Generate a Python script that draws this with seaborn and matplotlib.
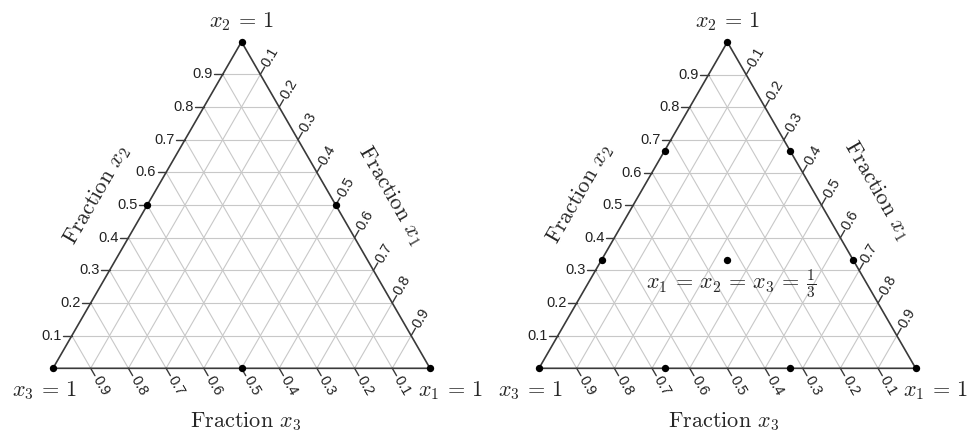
import numpy as np
import pandas as pd
import matplotlib
matplotlib.use("Agg")
import matplotlib.pyplot as plt
import seaborn as sns

# ---- data -------------------------------------------------------------
tick_values = [0.1, 0.2, 0.3, 0.4, 0.5, 0.6, 0.7, 0.8, 0.9]
tick_labels = ["0.1", "0.2", "0.3", "0.4", "0.5", "0.6", "0.7", "0.8", "0.9"]

# points (x1, x2, x3) for the left panel: vertices and edge midpoints
left_x1 = [1.0, 0.0, 0.0, 0.5, 0.0, 0.5]
left_x2 = [0.0, 1.0, 0.0, 0.5, 0.5, 0.0]
left_x3 = [0.0, 0.0, 1.0, 0.0, 0.5, 0.5]

# points for the right panel: vertices, edge thirds and the centroid
right_x1 = [1.0, 0.0, 0.0, 1/3, 2/3, 0.0, 0.0, 1/3, 2/3, 1/3]
right_x2 = [0.0, 1.0, 0.0, 2/3, 1/3, 2/3, 1/3, 0.0, 0.0, 1/3]
right_x3 = [0.0, 0.0, 1.0, 0.0, 0.0, 1/3, 2/3, 2/3, 1/3, 1/3]

# ---- styling ----------------------------------------------------------
sns.set_theme(style="white")
plt.rcParams["mathtext.fontset"] = "cm"
plt.rcParams["font.family"] = ["Liberation Sans", "DejaVu Sans"]

SQ3 = np.sqrt(3) / 2
GRID_C = "#c8c8c8"
EDGE_C = "#3a3a3a"
TICK_FS = 10.5
TITLE_FS = 16
SERIF = "cmr10"


def to_xy(x1, x2, x3):
    x1, x2, x3 = map(np.asarray, (x1, x2, x3))
    return x1 + 0.5 * x2, SQ3 * x2


def draw_ternary(ax, S, px_width, bl_px, bl_py, p1, p2, p3):
    H = 432
    ax.set_xlim(-bl_px / S, (px_width - bl_px) / S)
    ax.set_ylim(-(H - bl_py) / S, bl_py / S)
    ax.set_axis_off()

    # grid lines in the three directions
    rows = []
    for i, v in enumerate(tick_values):
        for seg, (a, b) in enumerate([
            ((0, v, 1 - v), (1 - v, v, 0)),      # constant x2
            ((v, 0, 1 - v), (v, 1 - v, 0)),      # constant x1
            ((1 - v, 0, v), (0, 1 - v, v)),      # constant x3
        ]):
            for end in (a, b):
                x, y = to_xy(*end)
                rows.append({"x": float(x), "y": float(y), "line": f"{seg}-{i}"})
    grid = pd.DataFrame(rows)
    for _, g in grid.groupby("line"):
        ax.plot(g["x"], g["y"], color=GRID_C, lw=0.8, zorder=1)

    # triangle outline
    ex, ey = to_xy([0, 1, 0, 0], [0, 0, 1, 0], [1, 0, 0, 1])
    ax.plot(ex, ey, color=EDGE_C, lw=1.2, zorder=2, solid_joinstyle="miter")

    # ticks and tick labels
    tl = 8.5 / S
    gap = 1.5 / S
    for v, lab in zip(tick_values, tick_labels):
        # x2 on the left edge
        x, y = to_xy(0, v, 1 - v)
        ax.plot([x, x - tl], [y, y], color=EDGE_C, lw=1.0, zorder=2)
        ax.text(x - tl - gap, y, lab, ha="right", va="center",
                fontsize=TICK_FS, color="#222222")
        # x1 on the right edge
        x, y = to_xy(v, 1 - v, 0)
        dx, dy = 0.5, SQ3
        ax.plot([x, x + tl * dx], [y, y + tl * dy], color=EDGE_C, lw=1.0, zorder=2)
        ax.text(x + (tl + gap) * dx, y + (tl + gap) * dy, lab, rotation=60,
                rotation_mode="anchor", ha="left", va="center",
                fontsize=TICK_FS, color="#222222")
        # x3 on the bottom edge
        x, y = to_xy(1 - v, 0, v)
        dx, dy = 0.5, -SQ3
        ax.plot([x, x + tl * dx], [y, y + tl * dy], color=EDGE_C, lw=1.0, zorder=2)
        ax.text(x + (tl + gap) * dx, y + (tl + gap) * dy, lab, rotation=-60,
                rotation_mode="anchor", ha="left", va="center",
                fontsize=TICK_FS, color="#222222")

    # points
    px, py = to_xy(p1, p2, p3)
    sns.scatterplot(x=px, y=py, ax=ax, color="black", s=28, edgecolor="black",
                    linewidth=0, zorder=5, legend=False)

    def put(px_off, py_off, base, s, **kw):
        bx, by = base
        ax.text(bx + px_off / S, by - py_off / S, s, fontsize=TITLE_FS,
                family=SERIF, ha="center", va="center", **kw)

    # vertex labels
    put(0, -20, to_xy(0, 1, 0), r"$x_2\,=\,1$")
    put(-9, 22, to_xy(0, 0, 1), r"$x_3\,=\,1$")
    put(20, 22, to_xy(1, 0, 0), r"$x_1\,=\,1$")
    return put


fig = plt.figure(figsize=(9.71, 4.32), dpi=100)
ax_l = fig.add_axes([0, 0, 485 / 971, 1])
ax_r = fig.add_axes([485 / 971, 0, 486 / 971, 1])

put_l = draw_ternary(ax_l, 377.0, 485, 53.0, 368.3, left_x1, left_x2, left_x3)
put_r = draw_ternary(ax_r, 376.7, 486, 54.0, 368.3, right_x1, right_x2, right_x3)

mid_left = to_xy(0, 0.5, 0.5)
mid_right = to_xy(0.5, 0.5, 0)
mid_bottom = to_xy(0.5, 0, 0.5)

# axis titles
put_l(-50, -10, mid_left, r"Fraction $x_2$", rotation=60)
put_l(55, -10, mid_right, r"Fraction $x_1$", rotation=-60)
put_l(4, 53, mid_bottom, r"Fraction $x_3$")

put_r(-53, -11, mid_left, r"Fraction $x_2$", rotation=60)
put_r(55, -15, mid_right, r"Fraction $x_1$", rotation=-60)
put_r(-4, 53, mid_bottom, r"Fraction $x_3$")
put_r(4, 24, to_xy(1/3, 1/3, 1/3), r"$x_1\,=\,x_2\,=\,x_3\,=\,\frac{1}{3}$")

fig.savefig("out.png", dpi=100)
